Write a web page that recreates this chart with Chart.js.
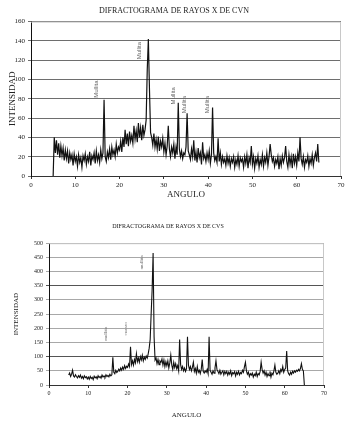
<!DOCTYPE html>
<html>
<head>
<meta charset="utf-8">
<script src="https://cdn.jsdelivr.net/npm/chart.js@4"></script>
<style>
  body { margin: 0; background: #fff; width: 356px; height: 423px; overflow: hidden; }
  canvas { display: block; }
</style>
</head>
<body>
<canvas id="cvn" width="356" height="200"></canvas>
<canvas id="cvs" width="356" height="223"></canvas>
<script>
// sampling grid of the scans (degrees 2-theta)
const startAngle = 5;
const stepAngle = 0.25;

// CVN intensities, 5.00 .. 65.00, one row = 5 degrees
const cvnIntensity = [
  0, 40, 24, 37, 22, 34, 19, 31, 21, 29, 16, 27, 18, 26, 13, 24, 17, 22, 11, 23,
  15, 20, 10, 22, 14, 19, 9, 21, 16, 23, 12, 20, 15, 25, 11, 21, 17, 24, 13, 26,
  16, 22, 14, 27, 18, 24, 79, 20, 15, 25, 19, 28, 17, 30, 22, 27, 20, 33, 24, 30,
  27, 36, 25, 40, 30, 48, 33, 44, 31, 46, 36, 42, 34, 52, 38, 47, 35, 55, 40, 50,
  37, 53, 42, 48, 58, 110, 142, 90, 45, 40, 32, 44, 30, 38, 28, 41, 26, 36, 30, 39,
  25, 34, 22, 31, 52, 28, 20, 30, 24, 33, 18, 30, 22, 76, 28, 20, 26, 18, 24, 22,
  30, 65, 26, 22, 17, 28, 20, 37, 16, 25, 14, 29, 19, 24, 12, 35, 18, 22, 15, 24,
  17, 26, 13, 22, 71, 24, 16, 20, 14, 39, 15, 24, 12, 20, 14, 18, 11, 21, 13, 19,
  10, 18, 14, 20, 9, 17, 12, 21, 10, 19, 15, 18, 9, 20, 13, 22, 8, 19, 14, 31,
  12, 20, 8, 18, 13, 21, 9, 17, 12, 22, 10, 19, 14, 24, 11, 20, 33, 22, 15, 19,
  10, 17, 13, 20, 7, 18, 11, 21, 14, 19, 31, 15, 9, 22, 12, 20, 8, 23, 13, 20,
  11, 24, 15, 40, 18, 12, 20, 9, 17, 14, 21, 10, 18, 13, 22, 11, 19, 24, 15, 33,
  14
];

// CVS intensities, same grid
const cvsIntensity = [
  35, 42, 30, 38, 52, 32, 28, 36, 30, 25, 33, 27, 35, 24, 30, 22, 32, 26, 29, 21,
  28, 20, 30, 23, 27, 19, 31, 25, 29, 22, 33, 26, 30, 24, 35, 28, 32, 27, 36, 30,
  34, 29, 38, 32, 36, 98, 45, 40, 52, 44, 48, 56, 50, 60, 52, 63, 55, 68, 58, 66,
  62, 74, 65, 135, 72, 85, 70, 90, 78, 110, 82, 95, 80, 100, 88, 105, 85, 98, 90, 102,
  95, 110, 130, 160, 250, 335, 465, 170, 88, 95, 75, 90, 72, 85, 80, 92, 70, 88, 65, 82,
  68, 85, 60, 78, 105, 70, 55, 80, 62, 75, 58, 68, 50, 160, 72, 55, 65, 50, 60, 48,
  58, 170, 70, 55, 65, 50, 62, 80, 48, 58, 42, 65, 45, 52, 40, 55, 90, 48, 42, 50,
  45, 55, 40, 170, 52, 45, 38, 50, 42, 60, 85, 55, 48, 40, 52, 38, 45, 50, 36, 48,
  40, 48, 35, 45, 38, 50, 33, 44, 40, 47, 32, 45, 38, 48, 36, 44, 40, 52, 45, 65,
  80, 50, 38, 45, 30, 40, 35, 42, 28, 38, 33, 45, 30, 40, 36, 48, 80, 55, 42, 50,
  35, 45, 30, 40, 33, 48, 28, 42, 36, 50, 70, 45, 38, 42, 50, 40, 55, 48, 65, 45,
  55, 60, 120, 50, 40, 35, 45, 38, 48, 42, 50, 45, 52, 48, 55, 50, 58, 75, 55, 50,
  0
];

// peak labels
const cvnLabelText = ['Mullita', 'Mullita', 'Mullita', 'Mullita', 'Mullita'];
const cvnLabelX = [14.7, 24.4, 32.1, 34.6, 39.8];
const cvnLabelY = [90, 130, 83, 74, 74];

const cvsLabelText = ['mullita', 'cuarzo', 'mullita'];
const cvsLabelX = [14.5, 19.6, 23.7];
const cvsLabelY = [180, 198, 432];

const SERIF = '"Liberation Serif", "DejaVu Serif", serif';

function toPoints(values) {
  return values.map((v, i) => ({ x: startAngle + i * stepAngle, y: v }));
}

// frame + rotated peak names
const peakLabels = {
  id: 'peakLabels',
  beforeDatasetsDraw(chart, args, opts) {
    const { ctx, chartArea: a } = chart;
    ctx.save();
    ctx.strokeStyle = opts.frame;
    ctx.lineWidth = 1;
    ctx.beginPath();
    ctx.moveTo(a.left, a.top + 0.5);
    ctx.lineTo(a.right - 0.5, a.top + 0.5);
    ctx.lineTo(a.right - 0.5, a.bottom);
    ctx.stroke();
    ctx.restore();
  },
  afterDatasetsDraw(chart, args, opts) {
    const { ctx, scales: { x, y } } = chart;
    ctx.save();
    ctx.font = opts.font;
    ctx.fillStyle = opts.color;
    ctx.textAlign = 'center';
    ctx.textBaseline = 'middle';
    opts.texts.forEach((t, i) => {
      ctx.save();
      ctx.translate(x.getPixelForValue(opts.xs[i]), y.getPixelForValue(opts.ys[i]));
      ctx.rotate(-Math.PI / 2);
      ctx.fillText(t, 0, 0);
      ctx.restore();
    });
    ctx.restore();
  }
};

function makeChart(id, o) {
  return new Chart(document.getElementById(id), {
    type: 'line',
    data: {
      datasets: [{
        data: toPoints(o.values),
        borderColor: '#111',
        borderWidth: o.lineWidth,
        pointRadius: 0,
        tension: 0
      }]
    },
    options: {
      responsive: false,
      animation: false,
      layout: { padding: { left: o.left, right: o.right, top: 0, bottom: 0 } },
      plugins: {
        legend: { display: false },
        tooltip: { enabled: false },
        title: {
          display: true,
          text: o.title,
          color: '#222',
          font: { family: SERIF, size: o.titleSize, weight: 'normal' },
          padding: o.titlePad
        },
        peakLabels: {
          texts: o.labelText, xs: o.labelX, ys: o.labelY,
          font: o.labelFont, color: '#666', frame: '#c8c8c8'
        }
      },
      scales: {
        x: {
          type: 'linear',
          min: 0, max: 70,
          afterFit: s => { s.height = o.xHeight; },
          ticks: { stepSize: 10, color: '#222', font: { family: SERIF, size: o.tickSize }, padding: 2, maxRotation: 0 },
          grid: { drawOnChartArea: false, tickLength: 3, color: '#333' },
          border: { color: '#333' },
          title: { display: true, text: 'ANGULO', color: '#222', font: { family: SERIF, size: o.axisSize }, padding: o.xTitlePad }
        },
        y: {
          min: 0, max: o.yMax,
          afterFit: s => { s.width = o.yWidth; },
          ticks: { stepSize: o.yStep, color: '#222', font: { family: SERIF, size: o.tickSize }, padding: 3 },
          grid: { color: o.gridColor, tickLength: 3 },
          border: { color: '#111' },
          title: { display: true, text: 'INTENSIDAD', color: '#222', font: { family: SERIF, size: o.axisSize }, padding: 0 }
        }
      }
    },
    plugins: [peakLabels]
  });
}

makeChart('cvn', {
  values: cvnIntensity,
  title: 'DIFRACTOGRAMA DE RAYOS X DE CVN',
  titleSize: 8, titlePad: { top: 6, bottom: 6 },
  left: 7, right: 15, yWidth: 24, xHeight: 24, yMax: 160, yStep: 20,
  tickSize: 7, axisSize: 9, xTitlePad: 0, lineWidth: 1.2,
  gridColor: '#6e6e6e',
  labelText: cvnLabelText, labelX: cvnLabelX, labelY: cvnLabelY,
  labelFont: '6px "Liberation Sans", Arial, sans-serif'
});

makeChart('cvs', {
  values: cvsIntensity,
  title: 'DIFRACTOGRAMA DE RAYOS X DE CVS',
  titleSize: 6, titlePad: { top: 23, bottom: 13 },
  left: 12, right: 32, yWidth: 37, xHeight: 38, yMax: 500, yStep: 50,
  tickSize: 6, axisSize: 7, xTitlePad: { top: 8 }, lineWidth: 1.1,
  gridColor: ctx => (ctx.tick && (ctx.tick.value === 350 || ctx.tick.value === 100)) ? '#555' : '#a8a8a8',
  labelText: cvsLabelText, labelX: cvsLabelX, labelY: cvsLabelY,
  labelFont: '5px ' + SERIF
});
</script>
</body>
</html>
